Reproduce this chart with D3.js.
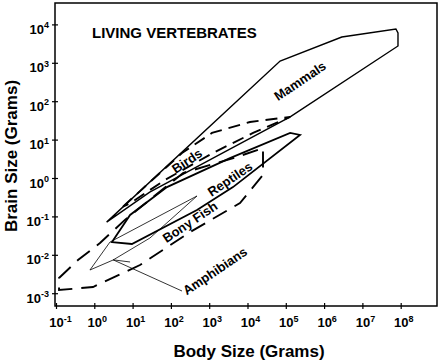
<!DOCTYPE html>
<html>
<head>
<meta charset="UTF-8">
<title></title>
<script src="https://cdn.jsdelivr.net/npm/d3@7/dist/d3.min.js"></script>
<style>
    body{margin:0;background:#fff;}
    svg{font-family:"Liberation Sans",Arial,sans-serif;font-weight:bold;}
</style>
</head>
<body>
<svg width="440" height="362"></svg>
<script>
    // tick exponents (powers of ten)
    var xExponents = [-1, 0, 1, 2, 3, 4, 5, 6, 7, 8];
    var yExponents = [-3, -2, -1, 0, 1, 2, 3, 4];

    // outlines, [body g, brain g]
    var mammals = [[2.1, 0.071], [7.1e4, 1110], [2.9e6, 4700], [7.5e7, 7600], [8.5e7, 6000], [8.5e7, 2740],
        [1.3e5, 39], [1260, 3.3], [28, 0.43]];
    var birds = [[5.6, 0.18], [195, 4.48], [1180, 14.9], [1.16e4, 28.7], [1.3e5, 39], [1.4e4, 14.9],
        [1260, 4.5], [70, 0.89], [8.6, 0.22]];
    var reptiles = [[2.9, 0.0215], [9.6, 0.0191], [480, 0.147], [4180, 0.58], [2.35e5, 13.2], [1.3e5, 14.9],
        [3490, 3.3], [79, 0.58], [8.6, 0.109]];
    var bonyFish = [[0.12, 0.00249], [0.375, 0.0073], [1.41, 0.0203], [6.3, 0.081], [207, 1.35], [5320, 3.52],
        [2.54e4, 6.04], [2.54e4, 1.2], [6370, 0.223], [315, 0.039], [15.6, 0.00543], [0.925, 0.00145], [0.12, 0.00121]];
    var amphibians = [[0.77, 0.00402], [2.57, 0.0215], [480, 0.34], [28.4, 0.0274], [3.08, 0.0073]];
    var amphibianPointer = [[195, 0.00114], [3.1, 0.0074], [8.6, 0.0065]];

    var groupNames = ["Mammals", "Birds", "Reptiles", "Bony Fish", "Amphibians"];
    var labelAt = [[2.35e5, 336], [263, 2.77], [3490, 0.94], [315, 0.0715], [1416, 0.00379]];

    var svg = d3.select("svg");
    var plot = {left: 55, right: 437, top: 3, bottom: 306};

    var x = d3.scaleLog().domain([Math.pow(10, -1.026), Math.pow(10, 8.948)]).range([plot.left, plot.right]);
    var y = d3.scaleLog().domain([Math.pow(10, -3.333), Math.pow(10, 4.557)]).range([plot.bottom, plot.top]);

    var styles = {
        "Mammals": {w: 1.4, dash: null},
        "Birds": {w: 1.9, dash: "12,7"},
        "Reptiles": {w: 1.8, dash: null},
        "Bony Fish": {w: 1.9, dash: "16,9"},
        "Amphibians": {w: 0.8, dash: null}
    };
    var outlines = [mammals, birds, reptiles, bonyFish, amphibians];

    // frame
    svg.append("rect")
        .attr("x", plot.left).attr("y", plot.top)
        .attr("width", plot.right - plot.left).attr("height", plot.bottom - plot.top)
        .attr("fill", "none").attr("stroke", "#000").attr("stroke-width", 1.5);

    function powLabel(sel) {
        sel.text(null);
        sel.append("tspan").attr("font-size", 13).text("10");
        sel.append("tspan").attr("font-size", 9).attr("dy", -5.5).text(function (d) {
            return String(Math.round(Math.log10(d)));
        });
    }

    var gx = svg.append("g").attr("transform", "translate(0," + plot.bottom + ")")
        .call(d3.axisBottom(x).tickValues(xExponents.map(function (e) { return Math.pow(10, e); }))
            .tickSize(3).tickFormat(""));
    gx.attr("font-family", null).attr("font-size", null);
    gx.select(".domain").remove();
    gx.selectAll(".tick line").attr("y1", -3).attr("stroke", "#000").attr("stroke-width", 1.2);
    gx.selectAll(".tick text").attr("fill", "#000").attr("dy", null).attr("y", 21)
        .attr("x", -7.2).attr("text-anchor", "start").call(powLabel);

    var gy = svg.append("g").attr("transform", "translate(" + plot.left + ",0)")
        .call(d3.axisLeft(y).tickValues(yExponents.map(function (e) { return Math.pow(10, e); }))
            .tickSize(3).tickFormat(""));
    gy.attr("font-family", null).attr("font-size", null);
    gy.select(".domain").remove();
    gy.selectAll(".tick line").attr("x1", 3).attr("stroke", "#000").attr("stroke-width", 1.2);
    gy.selectAll(".tick text").attr("fill", "#000").attr("dy", null).attr("y", 9)
        .attr("x", -6).attr("text-anchor", "end").call(powLabel);

    // outlines
    var line = d3.line()
        .x(function (d) { return x(d[0]); })
        .y(function (d) { return y(d[1]); });

    outlines.forEach(function (pts, i) {
        var s = styles[groupNames[i]];
        svg.append("path")
            .attr("d", line.curve(d3.curveLinearClosed)(pts))
            .attr("fill", "none")
            .attr("stroke", "#000")
            .attr("stroke-width", s.w)
            .attr("stroke-linejoin", "miter")
            .attr("stroke-dasharray", s.dash);
    });

    svg.append("path")
        .attr("d", line.curve(d3.curveLinear)(amphibianPointer))
        .attr("fill", "none").attr("stroke", "#000").attr("stroke-width", 0.8);

    // group labels
    svg.append("g").selectAll("text")
        .data(groupNames)
        .enter().append("text")
        .attr("transform", function (d, i) {
            return "translate(" + x(labelAt[i][0]) + "," + y(labelAt[i][1]) + ") rotate(-34)";
        })
        .attr("text-anchor", "middle")
        .attr("dy", "0.35em")
        .attr("font-size", 13)
        .text(function (d) { return d; });

    svg.append("text").attr("x", 92).attr("y", 38).attr("font-size", 15).text("LIVING VERTEBRATES");

    svg.append("text").attr("x", 249).attr("y", 357).attr("text-anchor", "middle")
        .attr("font-size", 17).text("Body Size (Grams)");
    svg.append("text").attr("transform", "translate(17,156) rotate(-90)").attr("text-anchor", "middle")
        .attr("font-size", 17).text("Brain Size (Grams)");
</script>
</body>
</html>
